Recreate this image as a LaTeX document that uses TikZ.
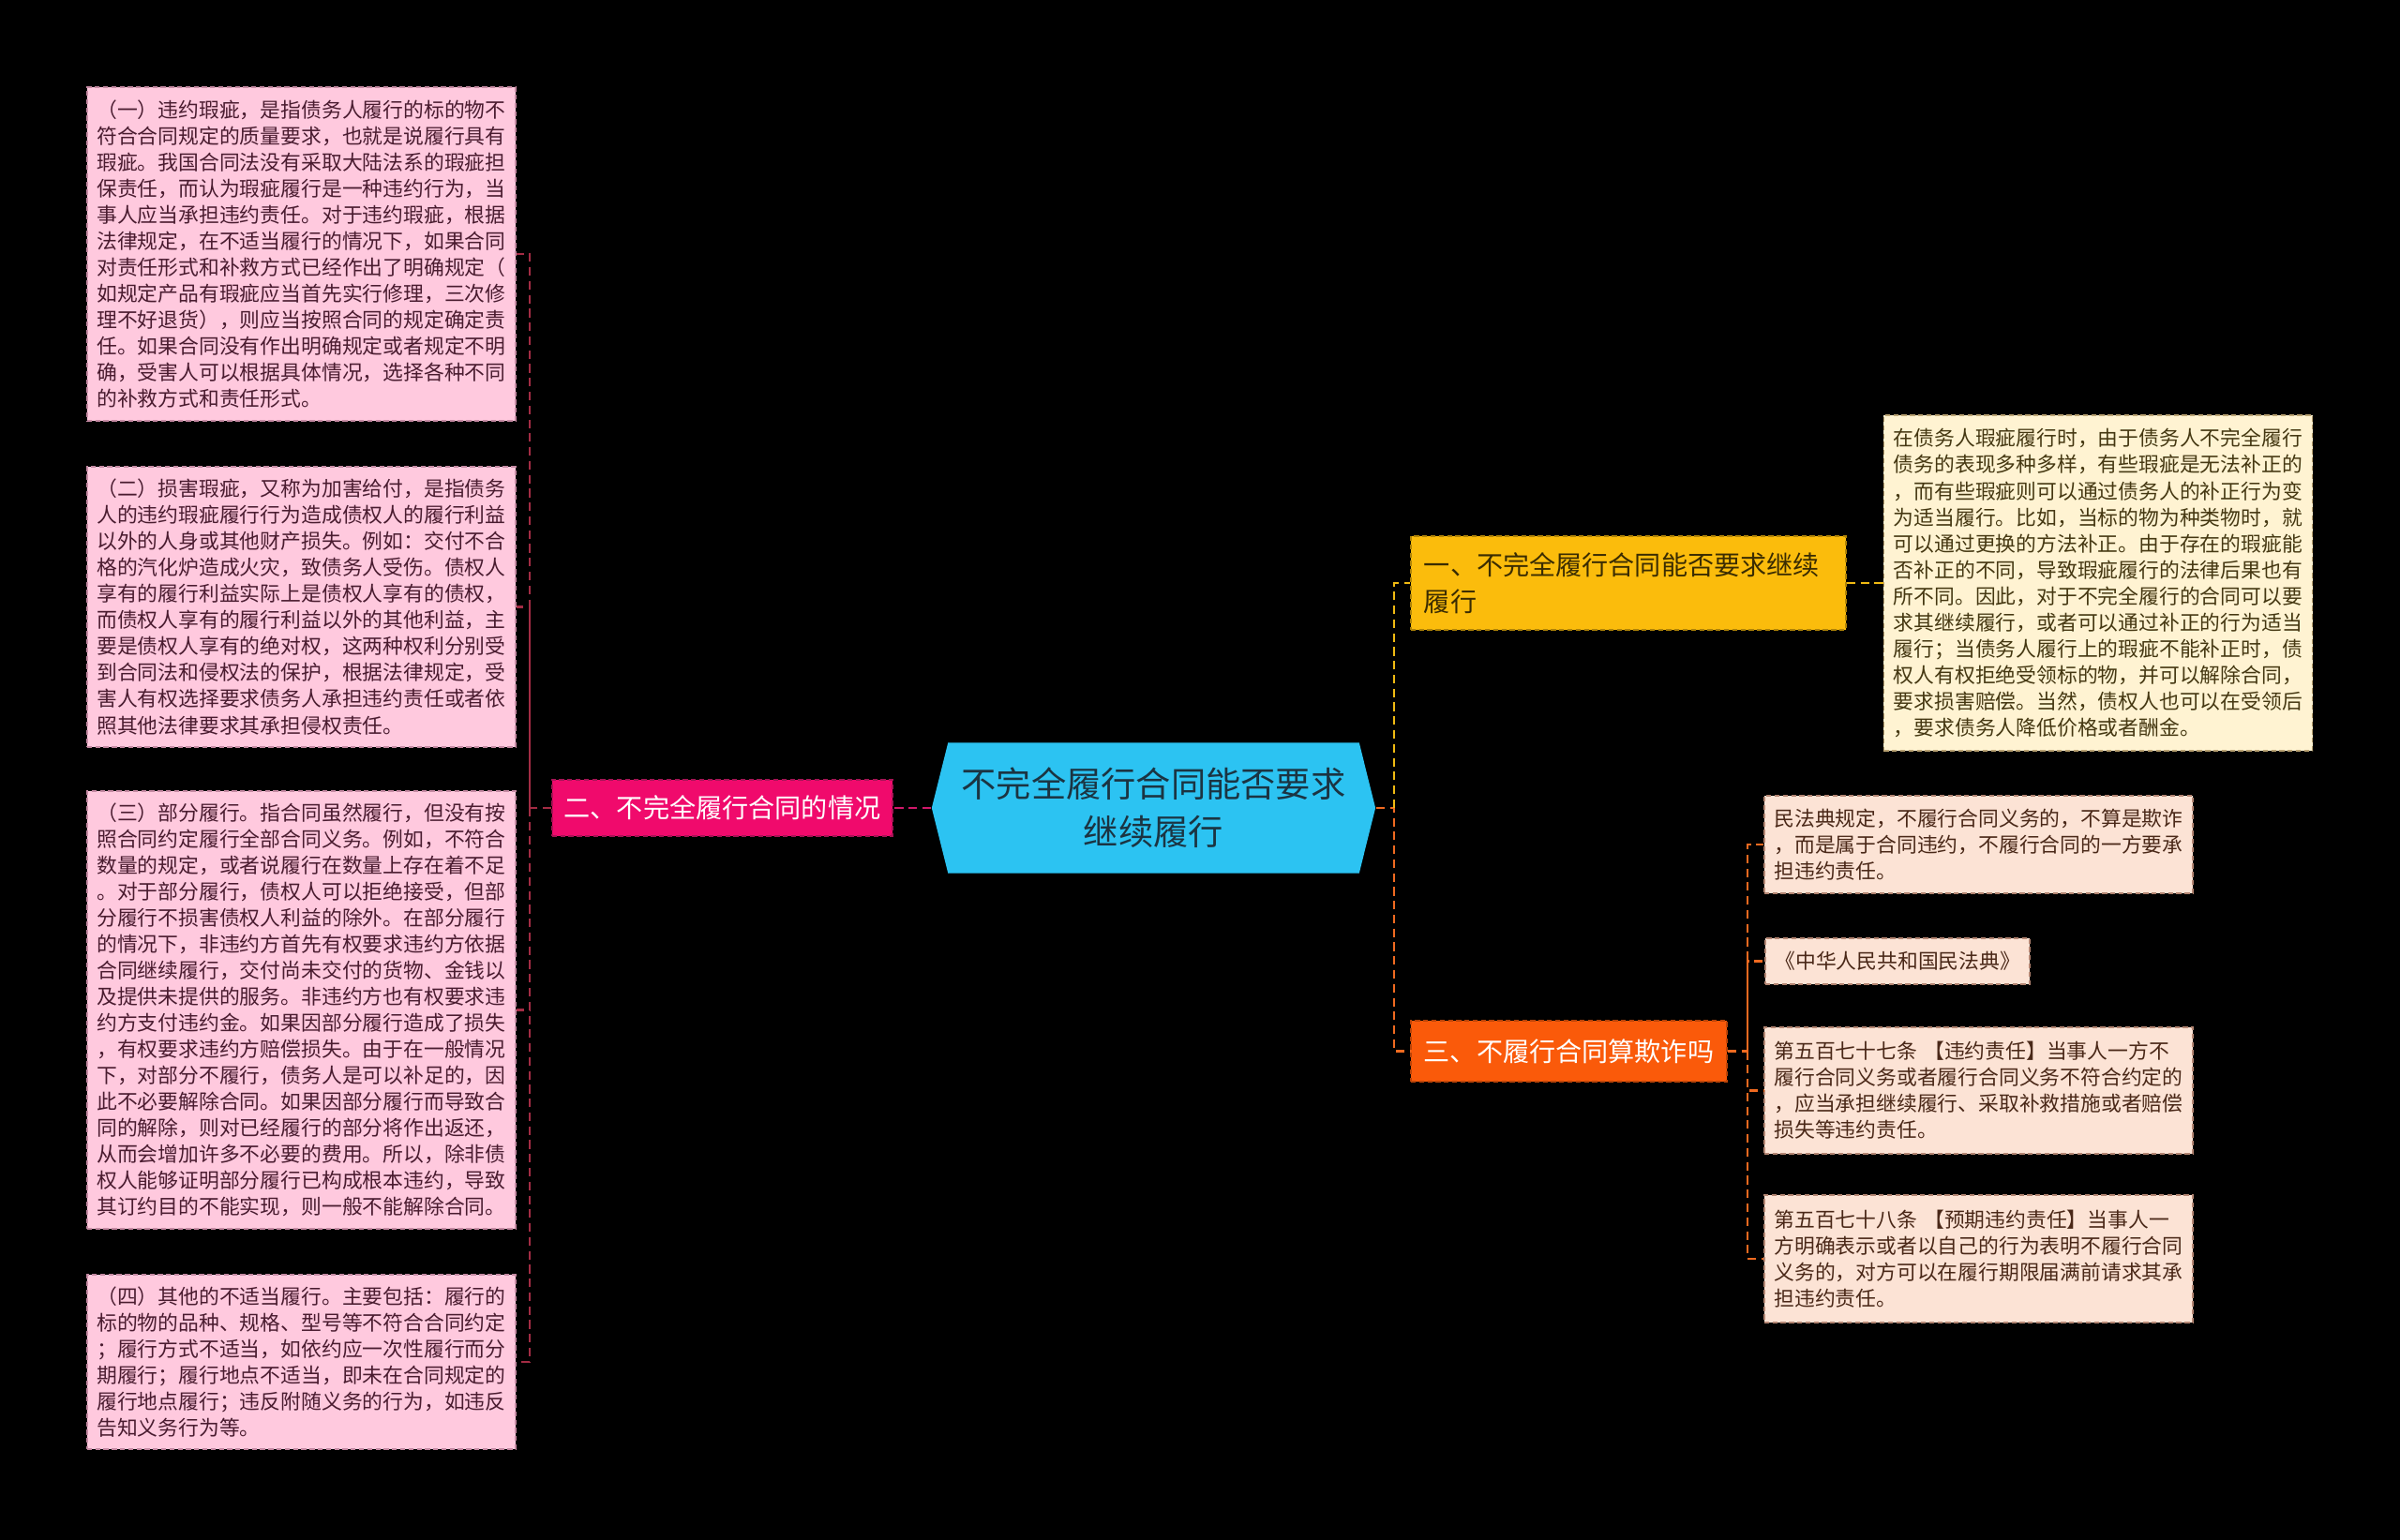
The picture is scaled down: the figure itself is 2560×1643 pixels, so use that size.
\documentclass[tikz,border=0pt]{standalone}
\usepackage{fontspec}
\setmainfont{Noto Sans CJK SC}
\usepackage{tikz}
\usetikzlibrary{shapes.symbols}

\definecolor{pinkfill}{HTML}{FFC9DE}
\definecolor{pinkedge}{HTML}{C58AA3}
\definecolor{pinktext}{HTML}{4A1C30}
\definecolor{creamfill}{HTML}{FFF3D2}
\definecolor{creamedge}{HTML}{B9A272}
\definecolor{creamtext}{HTML}{453812}
\definecolor{peachfill}{HTML}{FCE3D5}
\definecolor{peachedge}{HTML}{B38572}
\definecolor{peachtext}{HTML}{4A2818}
\definecolor{rootfill}{HTML}{2CC3F2}
\definecolor{roottext}{HTML}{1B3442}
\definecolor{magfill}{HTML}{F00A6C}
\definecolor{goldfill}{HTML}{FBBC0C}
\definecolor{goldtext}{HTML}{3A2C02}
\definecolor{orfill}{HTML}{FA5A0A}
\definecolor{magline}{HTML}{D0186A}
\definecolor{redline}{HTML}{A32C44}
\definecolor{yelline}{HTML}{F0BA12}
\definecolor{orline}{HTML}{F06A20}

\begin{document}
\begin{tikzpicture}[x=0.01cm,y=-0.01cm,
    box/.style={rectangle, dash pattern=on 1.5pt off 1pt, line width=0.4pt,
        align=left, text width=4.36cm, inner xsep=0.105cm, inner ysep=0pt,
        font=\fontsize{6.2}{7.97}\selectfont},
    pinkbox/.style={box, fill=pinkfill, draw=pinkedge, text=pinktext},
    creambox/.style={box, fill=creamfill, draw=creamedge, text=creamtext},
    peachbox/.style={box, fill=peachfill, draw=peachedge, text=peachtext,
        minimum width=4.55cm},
    branch/.style={rectangle, inner sep=0pt, dash pattern=on 1.5pt off 1pt,
        line width=0.4pt, font=\fontsize{8}{11}\selectfont},
    link/.style={dash pattern=on 2.6pt off 1.6pt, line width=0.6pt}]

    \fill[black] (0,0) rectangle (2560,1643);
    \useasboundingbox (0,0) rectangle (2560,1643);

    % centre
    \node[signal, signal to=west and east, signal pointer angle=152,
        fill=rootfill, text=roottext, minimum width=4.73cm, minimum height=1.39cm,
        inner sep=0pt, align=center, font=\fontsize{10.6}{14.4}\selectfont]
        (root) at (1230.5,862) {不完全履行合同能否要求\\继续履行};

    % left side
    \node[branch, fill=magfill, draw=magline!80!black, text=white,
        minimum width=3.63cm, minimum height=0.60cm]
        (two) at (770.5,862) {二、不完全履行合同的情况};

    \node[pinkbox, minimum height=3.56cm] (l1) at (321.5,271) {%
（一）违约瑕疵，是指债务人履行的标的物不\\
符合合同规定的质量要求，也就是说履行具有\\
瑕疵。我国合同法没有采取大陆法系的瑕疵担\\
保责任，而认为瑕疵履行是一种违约行为，当\\
事人应当承担违约责任。对于违约瑕疵，根据\\
法律规定，在不适当履行的情况下，如果合同\\
对责任形式和补救方式已经作出了明确规定（\\
如规定产品有瑕疵应当首先实行修理，三次修\\
理不好退货），则应当按照合同的规定确定责\\
任。如果合同没有作出明确规定或者规定不明\\
确，受害人可以根据具体情况，选择各种不同\\
的补救方式和责任形式。};

    \node[pinkbox, minimum height=2.99cm] (l2) at (321.5,647.5) {%
（二）损害瑕疵，又称为加害给付，是指债务\\
人的违约瑕疵履行行为造成债权人的履行利益\\
以外的人身或其他财产损失。例如：交付不合\\
格的汽化炉造成火灾，致债务人受伤。债权人\\
享有的履行利益实际上是债权人享有的债权，\\
而债权人享有的履行利益以外的其他利益，主\\
要是债权人享有的绝对权，这两种权利分别受\\
到合同法和侵权法的保护，根据法律规定，受\\
害人有权选择要求债务人承担违约责任或者依\\
照其他法律要求其承担侵权责任。};

    \node[pinkbox, minimum height=4.67cm] (l3) at (321.5,1077.5) {%
（三）部分履行。指合同虽然履行，但没有按\\
照合同约定履行全部合同义务。例如，不符合\\
数量的规定，或者说履行在数量上存在着不足\\
。对于部分履行，债权人可以拒绝接受，但部\\
分履行不损害债权人利益的除外。在部分履行\\
的情况下，非违约方首先有权要求违约方依据\\
合同继续履行，交付尚未交付的货物、金钱以\\
及提供未提供的服务。非违约方也有权要求违\\
约方支付违约金。如果因部分履行造成了损失\\
，有权要求违约方赔偿损失。由于在一般情况\\
下，对部分不履行，债务人是可以补足的，因\\
此不必要解除合同。如果因部分履行而导致合\\
同的解除，则对已经履行的部分将作出返还，\\
从而会增加许多不必要的费用。所以，除非债\\
权人能够证明部分履行已构成根本违约，导致\\
其订约目的不能实现，则一般不能解除合同。};

    \node[pinkbox, minimum height=1.86cm] (l4) at (321.5,1453) {%
（四）其他的不适当履行。主要包括：履行的\\
标的物的品种、规格、型号等不符合合同约定\\
；履行方式不适当，如依约应一次性履行而分\\
期履行；履行地点不适当，即未在合同规定的\\
履行地点履行；违反附随义务的行为，如违反\\
告知义务行为等。};

    % right side
    \node[branch, fill=goldfill, draw=goldfill!70!black, text=goldtext,
        minimum width=4.64cm, minimum height=1.00cm, text width=4.36cm, align=left]
        (one) at (1737,622) {一、不完全履行合同能否要求继续\\履行};

    \node[branch, fill=orfill, draw=orfill!75!black, text=white,
        minimum width=3.37cm, minimum height=0.65cm]
        (three) at (1673.5,1121.5) {三、不履行合同算欺诈吗};

    \node[creambox, minimum height=3.58cm] (y1) at (2238,622) {%
在债务人瑕疵履行时，由于债务人不完全履行\\
债务的表现多种多样，有些瑕疵是无法补正的\\
，而有些瑕疵则可以通过债务人的补正行为变\\
为适当履行。比如，当标的物为种类物时，就\\
可以通过更换的方法补正。由于存在的瑕疵能\\
否补正的不同，导致瑕疵履行的法律后果也有\\
所不同。因此，对于不完全履行的合同可以要\\
求其继续履行，或者可以通过补正的行为适当\\
履行；当债务人履行上的瑕疵不能补正时，债\\
权人有权拒绝受领标的物，并可以解除合同，\\
要求损害赔偿。当然，债权人也可以在受领后\\
，要求债务人降低价格或者酬金。};

    \node[peachbox, minimum height=1.04cm] (c1) at (2110.5,901) {%
民法典规定，不履行合同义务的，不算是欺诈\\
，而是属于合同违约，不履行合同的一方要承\\
担违约责任。};

    \node[peachbox, text width=2.61cm, minimum width=2.82cm, minimum height=0.49cm]
        (c2) at (2024,1025.5) {《中华人民共和国民法典》};

    \node[peachbox, minimum height=1.35cm] (c3) at (2110.5,1163.5) {%
第五百七十七条 【违约责任】当事人一方不\\
履行合同义务或者履行合同义务不符合约定的\\
，应当承担继续履行、采取补救措施或者赔偿\\
损失等违约责任。};

    \node[peachbox, minimum height=1.36cm] (c4) at (2110.5,1343) {%
第五百七十八条 【预期违约责任】当事人一\\
方明确表示或者以自己的行为表明不履行合同\\
义务的，对方可以在履行期限届满前请求其承\\
担违约责任。};

    % connectors
    \draw[link, magline] (root.west) -- (two.east);
    \draw[link, redline] (two.west) -- ++(-23,0) |- (l1.east);
    \draw[link, redline] (two.west) ++(-23,0) |- (l2.east);
    \draw[link, redline] (two.west) ++(-23,0) |- (l3.east);
    \draw[link, redline] (two.west) ++(-23,0) |- (l4.east);

    \draw[link, orline] (root.east) -- ++(19,0) |- (three.west);
    \draw[link, yelline] (root.east) ++(19,0) |- (one.west);
    \draw[link, yelline] (one.east) -- (y1.west);

    \draw[link, orline] (three.east) -- ++(21,0) |- (c1.west);
    \draw[link, orline] (three.east) ++(21,0) |- (c2.west);
    \draw[link, orline] (three.east) ++(21,0) |- (c3.west);
    \draw[link, orline] (three.east) ++(21,0) |- (c4.west);
\end{tikzpicture}
\end{document}
